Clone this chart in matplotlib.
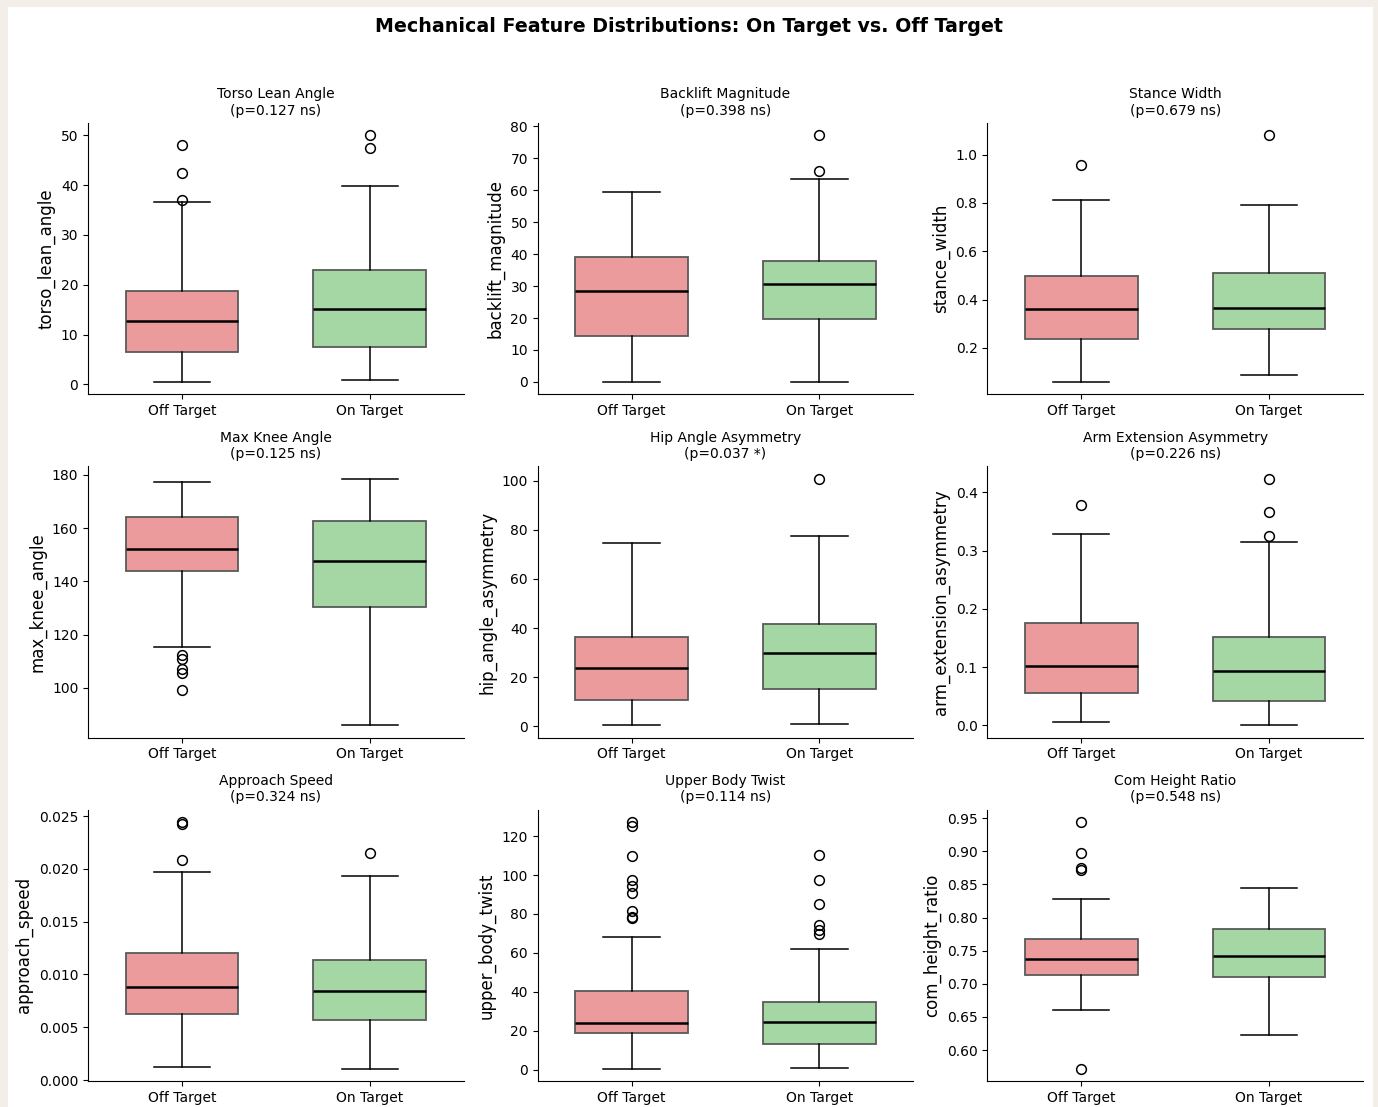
import matplotlib
matplotlib.use("Agg")
import matplotlib.pyplot as plt
from matplotlib.patches import Rectangle

groups = ["Off Target", "On Target"]

features = ["torso_lean_angle", "backlift_magnitude", "stance_width",
            "max_knee_angle", "hip_angle_asymmetry", "arm_extension_asymmetry",
            "approach_speed", "upper_body_twist", "com_height_ratio"]
titles = ["Torso Lean Angle", "Backlift Magnitude", "Stance Width",
          "Max Knee Angle", "Hip Angle Asymmetry", "Arm Extension Asymmetry",
          "Approach Speed", "Upper Body Twist", "Com Height Ratio"]
p_labels = ["p=0.127 ns", "p=0.398 ns", "p=0.679 ns",
            "p=0.125 ns", "p=0.037 *", "p=0.226 ns",
            "p=0.324 ns", "p=0.114 ns", "p=0.548 ns"]

# five-number summaries: [whislo, q1, med, q3, whishi] for (Off, On)
off_stats = [
    [0.5, 6.6, 12.8, 18.7, 36.7],
    [0.0, 14.4, 28.6, 39.0, 59.6],
    [0.059, 0.237, 0.360, 0.498, 0.811],
    [115.5, 144.0, 152.0, 164.3, 177.4],
    [0.4, 10.5, 23.7, 36.3, 74.8],
    [0.0063, 0.0562, 0.1023, 0.1762, 0.3277],
    [0.00127, 0.00623, 0.00883, 0.01206, 0.01968],
    [0.5, 18.8, 24.2, 40.2, 68.2],
    [0.661, 0.713, 0.737, 0.767, 0.828],
]
on_stats = [
    [0.9, 7.6, 15.1, 22.9, 39.9],
    [0.0, 19.7, 30.5, 37.7, 63.4],
    [0.087, 0.280, 0.366, 0.508, 0.790],
    [86.0, 130.5, 147.6, 162.6, 178.5],
    [0.8, 15.1, 29.9, 41.5, 77.3],
    [0.0, 0.0419, 0.0930, 0.1521, 0.3145],
    [0.00108, 0.00573, 0.00839, 0.01139, 0.01931],
    [1.0, 13.1, 24.7, 34.5, 61.8],
    [0.623, 0.710, 0.742, 0.782, 0.845],
]
off_fliers = [
    [37.1, 42.4, 48.1],
    [],
    [0.958],
    [112.3, 111.0, 107.2, 105.5, 99.1],
    [],
    [0.379],
    [0.02082, 0.02424, 0.02443],
    [77.8, 78.6, 81.4, 90.6, 94.2, 97.3, 109.7, 125.1, 127.2],
    [0.572, 0.871, 0.875, 0.897, 0.944],
]
on_fliers = [
    [47.4, 50.0],
    [65.9, 77.2],
    [1.080],
    [],
    [100.8],
    [0.3254, 0.3661, 0.4235],
    [0.02152],
    [69.8, 71.6, 74.2, 85.0, 97.3, 110.2],
    [],
]

box_colors = ["#eb9b9b", "#a5d7a5"]

fig, axes = plt.subplots(3, 3, figsize=(13.78, 11.07), dpi=100)
fig.patch.set_facecolor("#f3efe8")
fig.patches.append(Rectangle((8 / 1378, 0), 1373 / 1378 - 8 / 1378, 1 - 7 / 1107,
                             transform=fig.transFigure, facecolor="white",
                             edgecolor="none", zorder=-10))
fig.subplots_adjust(left=0.0639, right=0.9891, top=0.8889, bottom=0.0235,
                    wspace=0.197, hspace=0.266)

for i, ax in enumerate(axes.flat):
    stats = []
    for lab, s, fl in zip(groups, [off_stats[i], on_stats[i]], [off_fliers[i], on_fliers[i]]):
        stats.append(dict(label=lab, whislo=s[0], q1=s[1], med=s[2], q3=s[3],
                          whishi=s[4], fliers=fl))
    bp = ax.bxp(stats, positions=[1, 2], widths=0.6, patch_artist=True,
                boxprops=dict(edgecolor="#5a5a5a", linewidth=1.3),
                medianprops=dict(color="black", linewidth=1.8),
                whiskerprops=dict(color="black", linewidth=1.1),
                capprops=dict(color="black", linewidth=1.1),
                flierprops=dict(marker="o", markerfacecolor="none",
                                markeredgecolor="black", markersize=7,
                                markeredgewidth=1.1))
    for patch, c in zip(bp["boxes"], box_colors):
        patch.set_facecolor(c)
    ax.set_xlim(0.5, 2.5)
    ax.set_title(f"{titles[i]}\n({p_labels[i]})", fontsize=10)
    ax.set_ylabel(features[i], fontsize=12)
    ax.tick_params(labelsize=10)
    ax.spines["top"].set_visible(False)
    ax.spines["right"].set_visible(False)

fig.suptitle("Mechanical Feature Distributions: On Target vs. Off Target",
             fontsize=13.7, fontweight="bold", y=0.985)

fig.savefig("out.png", dpi=100, facecolor=fig.get_facecolor())
